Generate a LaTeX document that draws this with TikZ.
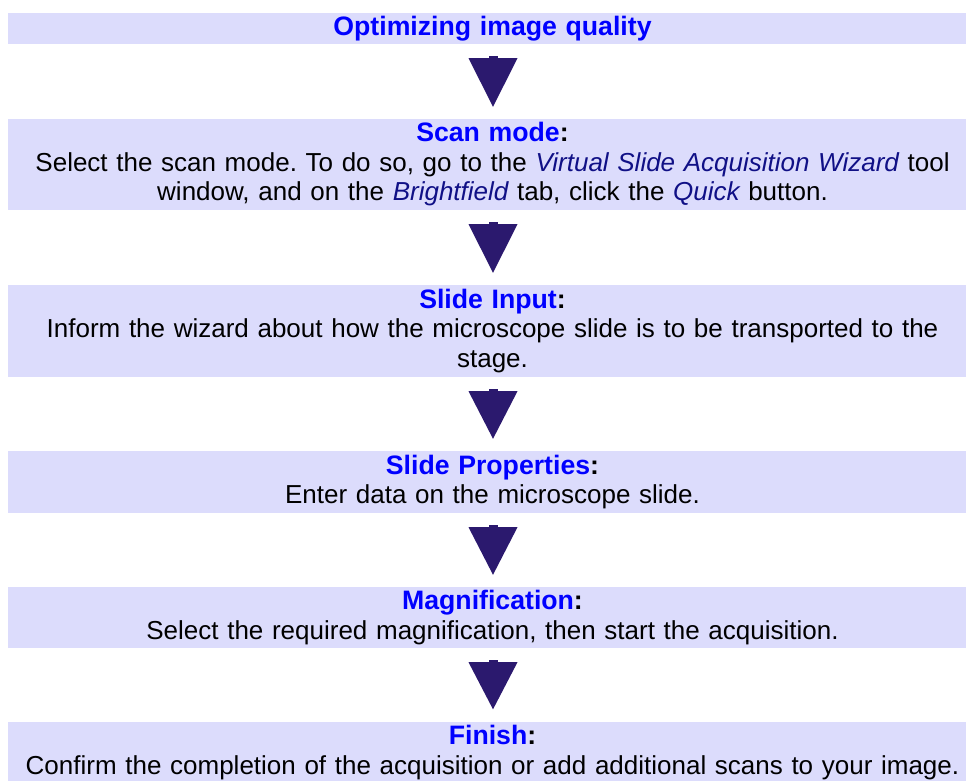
\documentclass[tikz,border=0pt]{standalone}
\usepackage{fontspec}
\setmainfont{Liberation Sans}
\usetikzlibrary{calc}

\definecolor{boxfill}{RGB}{220,220,252}
\definecolor{titleblue}{RGB}{0,0,255}
\definecolor{termblue}{RGB}{16,16,134}
\definecolor{arrowfill}{RGB}{43,25,110}

\newcommand\steptitle[1]{{\fontsize{26.67}{29.5}\selectfont\bfseries\color{titleblue}#1\color{black}:}}
\newcommand\term[1]{\textit{\color{termblue}#1}}

% filled down-pointing triangle from the bottom of one box to the top of the next
\newcommand\flowarrow[2]{%
  \fill[arrowfill] ($(#1.south)+(-4,12)$) rectangle ($(#1.south)+(5,15)$);
  \fill[arrowfill] ($(#1.south)+(-24,14)$) -- ($(#1.south)+(25,14)$)
    -- ($(#2.north)+(0.5,-12)$) -- cycle;
}

\begin{document}
\frenchspacing
\begin{tikzpicture}[x=1pt,y=-1pt,
  stepbox/.style={rectangle, fill=boxfill, inner sep=0pt,
    minimum width=969pt, text width=969pt, align=center,
    font=\fontsize{26}{29.5}\selectfont}]
  \path[use as bounding box, clip] (0,0) rectangle (966,780);

  \node[stepbox, minimum height=31pt] (b1) at (492.5,28.5)
    {{\fontsize{26.67}{29.5}\selectfont\bfseries\color{titleblue}Optimizing image quality}};

  \node[stepbox, minimum height=91pt] (b2) at (492.5,164.5)
    {\steptitle{Scan mode}\\
     Select the scan mode. To do so, go to the \term{Virtual Slide Acquisition Wizard} tool\\
     window, and on the \term{Brightfield} tab, click the \term{Quick} button.};

  \node[stepbox, minimum height=92pt] (b3) at (492.5,331)
    {\steptitle{Slide Input}\\
     Inform the wizard about how the microscope slide is to be transported to the\\
     stage.};

  \node[stepbox, minimum height=62pt] (b4) at (492.5,482)
    {\steptitle{Slide Properties}\\
     Enter data on the microscope slide.};

  \node[stepbox, minimum height=61pt] (b5) at (492.5,617.5)
    {\steptitle{Magnification}\\
     Select the required magnification, then start the acquisition.};

  \node[stepbox, minimum height=62pt] (b6) at (492.5,752.5)
    {\steptitle{Finish}\\
     Confirm the completion of the acquisition or add additional scans to your image.};

  \flowarrow{b1}{b2}
  \flowarrow{b2}{b3}
  \flowarrow{b3}{b4}
  \flowarrow{b4}{b5}
  \flowarrow{b5}{b6}
\end{tikzpicture}
\end{document}
